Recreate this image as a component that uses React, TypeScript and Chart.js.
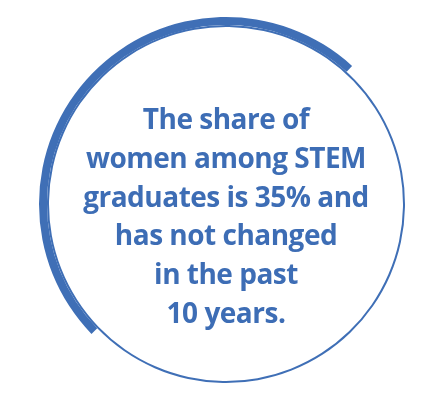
import { useEffect, useRef } from "react";
import { Chart, ArcElement, DoughnutController } from "chart.js";

Chart.register(ArcElement, DoughnutController);

// share drawn by the thick arc (as it appears in the graphic) and the remainder
const segmentLabels = ["Women", "Men"];
const thickArc = [49, 51];
const thinRing = [100];
const messageLines = [
  "The share of",
  "women among STEM",
  "graduates is 35% and",
  "has not changed",
  "in the past",
  "10 years.",
];

const BLUE = "#3f6fb6";

export default function App() {
  const canvasRef = useRef<HTMLCanvasElement | null>(null);

  useEffect(() => {
    if (!canvasRef.current) return;
    const chart = new Chart(canvasRef.current, {
      type: "doughnut",
      data: {
        labels: segmentLabels,
        datasets: [
          {
            data: thickArc,
            backgroundColor: [BLUE, "rgba(0,0,0,0)"],
            borderWidth: 0,
            weight: 8,
          },
          {
            data: thinRing,
            backgroundColor: [BLUE],
            borderWidth: 0,
            weight: 2,
          },
        ],
      },
      options: {
        responsive: false,
        animation: false,
        rotation: 226,
        cutout: 177,
        layout: { padding: { left: 39, right: 27, top: 17, bottom: 13 } },
        plugins: { legend: { display: false }, tooltip: { enabled: false } },
        events: [],
      },
    });
    return () => chart.destroy();
  }, []);

  return (
    <div style={{ position: "absolute", left: 0, top: 0, width: 440, height: 404, background: "#fff" }}>
      <canvas ref={canvasRef} width={440} height={404} style={{ position: "absolute", left: 0, top: 0 }} />
      <div
        style={{
          position: "absolute",
          left: 0,
          width: 452,
          top: 99,
          textAlign: "center",
          color: "#3d6db5",
          fontFamily: "'Open Sans', sans-serif",
          fontWeight: 700,
          fontSize: 28,
          lineHeight: "38.8px",
          letterSpacing: -0.5,
        }}
      >
        {messageLines.map((l) => (
          <div key={l}>{l}</div>
        ))}
      </div>
    </div>
  );
}
